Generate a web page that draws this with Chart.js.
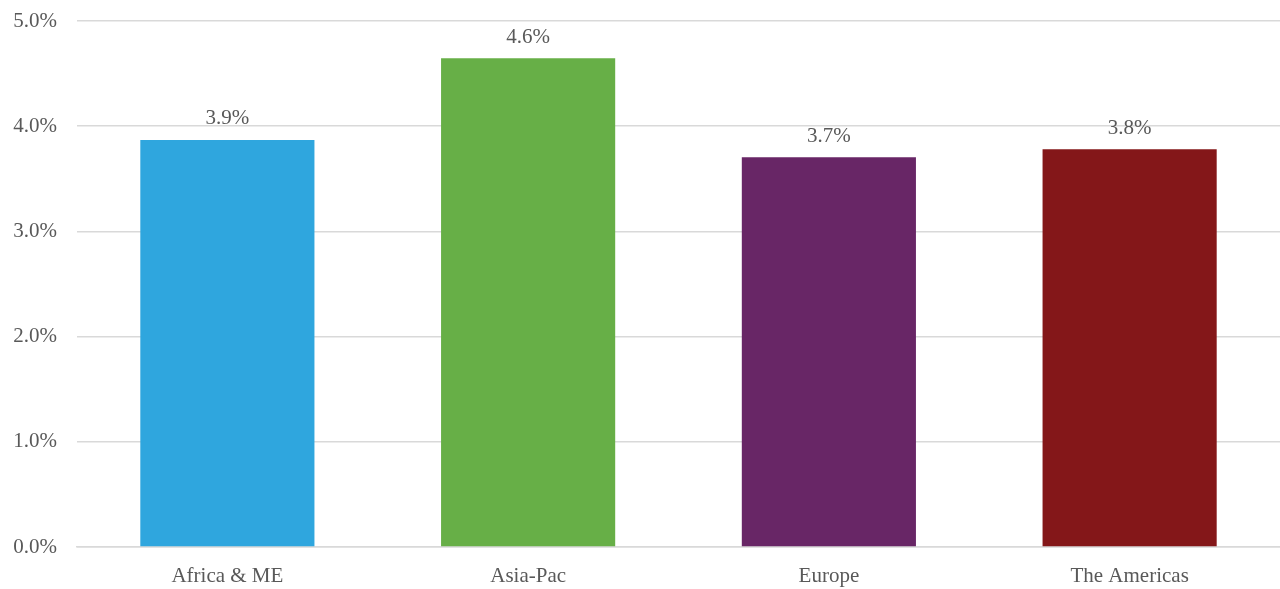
<!DOCTYPE html>
<html>
<head>
<meta charset="utf-8">
<script src="https://cdn.jsdelivr.net/npm/chart.js@4/dist/chart.umd.min.js"></script>
<style>
html,body{margin:0;padding:0;background:#fff;}
#wrap{width:1280px;height:589px;}
</style>
</head>
<body>
<div id="wrap"><canvas id="c" width="1280" height="589"></canvas></div>
<script>
const categories = ["Africa & ME", "Asia-Pac", "Europe", "The Americas"];
const values = [3.87, 4.645, 3.705, 3.78];
const dataLabels = ["3.9%", "4.6%", "3.7%", "3.8%"];
const barColors = ["#2FA6DE", "#67AF47", "#682666", "#841719"];
const yTicks = [0, 1, 2, 3, 4, 5];

const FONT = "'Liberation Serif', 'Times New Roman', serif";
const TXT = "#595959";
const FS = 21;

const labelPlugin = {
  id: 'barLabels',
  afterDatasetsDraw(chart) {
    const ctx = chart.ctx;
    const meta = chart.getDatasetMeta(0);
    ctx.save();
    ctx.font = FS + "px " + FONT;
    ctx.fillStyle = TXT;
    ctx.textAlign = 'center';
    ctx.textBaseline = 'middle';
    meta.data.forEach((bar, i) => {
      ctx.fillText(dataLabels[i], bar.x, bar.y - 21);
    });
    ctx.restore();
  }
};

new Chart(document.getElementById('c'), {
  type: 'bar',
  data: {
    labels: categories,
    datasets: [{
      data: values,
      backgroundColor: barColors,
      borderWidth: 0,
      categoryPercentage: 1,
      barPercentage: 0.579
    }]
  },
  options: {
    responsive: false,
    animation: false,
    layout: { padding: { top: 21, right: 0, left: 0, bottom: 0 } },
    plugins: { legend: { display: false }, tooltip: { enabled: false } },
    scales: {
      x: {
        grid: { display: false, drawTicks: false },
        border: { display: true, color: '#d9d9d9', width: 1.5 },
        ticks: { color: TXT, font: { family: FONT, size: FS }, padding: 17 },
        afterFit(s) { s.height = 42; s.paddingLeft = 0; s.paddingRight = 0; }
      },
      y: {
        min: 0, max: 5,
        afterBuildTicks(s) { s.ticks = yTicks.map(v => ({ value: v })); },
        grid: { color: '#d9d9d9', lineWidth: 1.5, drawTicks: false },
        border: { display: false },
        ticks: {
          color: TXT, font: { family: FONT, size: FS }, padding: 20,
          callback: v => v.toFixed(1) + '%'
        },
        afterFit(s) { s.width = 77; s.paddingTop = 0; s.paddingBottom = 0; }
      }
    }
  },
  plugins: [labelPlugin]
});
</script>
</body>
</html>
